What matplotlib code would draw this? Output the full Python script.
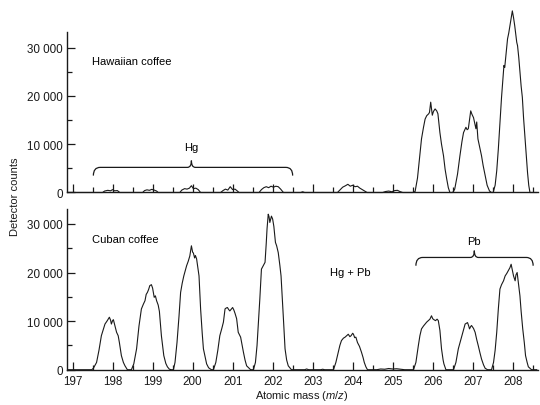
import matplotlib
matplotlib.use("Agg")
import matplotlib.pyplot as plt
from matplotlib.path import Path
from matplotlib.patches import PathPatch
from matplotlib.ticker import MultipleLocator, FuncFormatter

# (atomic mass, detector counts)
hawaiian_trace = [
    (196.9, 0), (197.75, 0), (197.8, 300), (197.88, 450), (197.95, 350), (198.0, 600),
    (198.05, 350), (198.12, 400), (198.18, 0),
    (198.75, 0), (198.8, 400), (198.86, 550), (198.92, 450), (198.98, 650), (199.04, 500),
    (199.1, 300), (199.14, 0),
    (199.68, 0), (199.73, 500), (199.8, 800), (199.86, 700), (199.92, 900), (199.97, 1400),
    (200.02, 800), (200.08, 900), (200.14, 600), (200.2, 0),
    (200.7, 0), (200.76, 400), (200.82, 700), (200.88, 500), (200.94, 1200), (201.0, 600),
    (201.06, 700), (201.12, 300), (201.16, 0),
    (201.66, 0), (201.72, 600), (201.78, 1000), (201.84, 1200), (201.9, 1000), (201.96, 1300),
    (202.02, 1100), (202.08, 1300), (202.14, 1200), (202.2, 700), (202.27, 0),
    (202.7, 0), (202.75, 150), (202.8, 0),
    (203.62, 0), (203.68, 500), (203.75, 1100), (203.82, 1400), (203.88, 1700), (203.94, 1300),
    (204.0, 1500), (204.06, 1200), (204.12, 1300), (204.18, 900), (204.24, 600), (204.3, 300),
    (204.36, 0),
    (204.75, 0), (204.82, 200), (204.9, 300), (204.98, 150), (205.05, 400), (205.12, 450),
    (205.18, 200), (205.25, 0),
    (205.5, 0), (205.56, 200), (205.62, 3000), (205.67, 7000), (205.72, 11100), (205.77, 13500),
    (205.81, 15200), (205.85, 15900), (205.9, 16300), (205.92, 16600), (205.95, 18700),
    (205.99, 16000), (206.02, 16800), (206.06, 17300), (206.1, 16900), (206.13, 16300),
    (206.18, 12400), (206.22, 10000), (206.27, 7600), (206.31, 4800), (206.35, 2800),
    (206.39, 1000), (206.43, 0),
    (206.5, 0), (206.55, 700), (206.62, 3800), (206.68, 7600), (206.73, 10500), (206.77, 12400),
    (206.83, 13500), (206.86, 13000), (206.89, 13200), (206.92, 15000), (206.95, 16900),
    (206.98, 16200), (207.02, 15500), (207.05, 14300), (207.08, 13200), (207.1, 14600),
    (207.13, 11100), (207.17, 9500), (207.22, 7600), (207.26, 5600), (207.31, 3500),
    (207.36, 1500), (207.42, 300), (207.47, 0),
    (207.51, 0), (207.56, 1500), (207.6, 4500), (207.64, 9000), (207.68, 14500), (207.72, 19700),
    (207.76, 24000), (207.78, 26300), (207.8, 25900), (207.83, 28500), (207.87, 31800),
    (207.9, 33000), (207.93, 34500), (207.96, 36000), (207.99, 37600), (208.02, 36200),
    (208.05, 34500), (208.08, 32500), (208.1, 31100), (208.12, 30400), (208.15, 28000),
    (208.18, 24900), (208.21, 22000), (208.24, 19700), (208.27, 15500), (208.31, 11100),
    (208.34, 7500), (208.37, 4100), (208.4, 1500), (208.43, 0), (208.6, 0),
]

cuban_trace = [
    (196.9, 0), (197.48, 0),
    (197.52, 300), (197.6, 1500), (197.66, 4000), (197.72, 7000), (197.77, 8300), (197.81, 9400),
    (197.86, 10000), (197.92, 10800), (197.95, 10200), (197.97, 9400), (198.0, 10100),
    (198.02, 10300), (198.06, 9000), (198.1, 7700), (198.14, 7000), (198.17, 5600),
    (198.22, 2900), (198.27, 1500), (198.31, 800), (198.37, 0),
    (198.47, 0), (198.53, 1200), (198.6, 4300), (198.66, 9000), (198.72, 12500), (198.77, 13500),
    (198.81, 14200), (198.84, 15500), (198.87, 15900), (198.9, 16500), (198.93, 17300),
    (198.97, 17500), (199.0, 16800), (199.04, 14900), (199.07, 15200), (199.1, 14200),
    (199.14, 13300), (199.17, 12000), (199.22, 7000), (199.28, 2900), (199.33, 1300),
    (199.37, 600), (199.42, 100), (199.47, 0),
    (199.52, 0), (199.56, 1500), (199.61, 5600), (199.66, 11000), (199.7, 15900), (199.74, 17800),
    (199.78, 19300), (199.82, 20500), (199.85, 21400), (199.89, 22300), (199.93, 23400),
    (199.97, 25500), (200.0, 24200), (200.02, 24000), (200.05, 23000), (200.07, 23500),
    (200.1, 22800), (200.13, 21000), (200.16, 19300), (200.2, 12500), (200.24, 7500),
    (200.27, 4300), (200.35, 1200), (200.4, 400), (200.47, 0),
    (200.52, 0), (200.58, 1500), (200.63, 4000), (200.68, 7000), (200.73, 8500), (200.77, 9800),
    (200.81, 12500), (200.84, 12700), (200.87, 12800), (200.9, 12400), (200.93, 12100),
    (200.97, 12500), (201.0, 12800), (201.03, 12300), (201.06, 11600), (201.1, 10500),
    (201.14, 7700), (201.2, 6700), (201.27, 3600), (201.31, 2000), (201.35, 800), (201.45, 0),
    (201.52, 0), (201.57, 1500), (201.61, 5000), (201.64, 9100), (201.68, 14600), (201.72, 20700),
    (201.77, 21500), (201.81, 22100), (201.84, 26000), (201.86, 29000), (201.89, 32000),
    (201.91, 31500), (201.93, 30300), (201.97, 31600), (202.0, 31000), (202.03, 29500),
    (202.07, 26200), (202.1, 25500), (202.14, 24100), (202.18, 21500), (202.21, 19300),
    (202.24, 15000), (202.27, 10400), (202.31, 4300), (202.35, 2000), (202.39, 800), (202.47, 0),
    (202.8, 0), (202.85, 150), (202.9, 0), (203.2, 0), (203.25, 100), (203.3, 0),
    (203.52, 0), (203.58, 1500), (203.64, 3600), (203.68, 5000), (203.72, 6000), (203.77, 6500),
    (203.81, 6700), (203.85, 7000), (203.89, 7300), (203.93, 6800), (203.96, 7000),
    (204.0, 7500), (204.02, 7300), (204.05, 6600), (204.08, 6700), (204.12, 5600),
    (204.17, 4800), (204.22, 3600), (204.26, 2500), (204.29, 1500), (204.33, 600), (204.37, 0),
    (204.6, 0), (204.7, 150), (204.8, 100), (204.9, 250), (205.0, 150), (205.1, 200),
    (205.2, 100), (205.3, 0),
    (205.52, 0), (205.58, 1500), (205.64, 4900), (205.68, 7000), (205.72, 8400), (205.77, 9000),
    (205.81, 9400), (205.85, 9800), (205.89, 10100), (205.93, 10400), (205.97, 11100),
    (206.0, 10500), (206.03, 10300), (206.07, 10100), (206.11, 10400), (206.14, 10100),
    (206.18, 8100), (206.22, 4300), (206.26, 2000), (206.28, 1200), (206.33, 0),
    (206.52, 0), (206.58, 1500), (206.64, 4300), (206.68, 5500), (206.72, 6700), (206.77, 8200),
    (206.81, 9400), (206.87, 9700), (206.9, 9000), (206.92, 8400), (206.95, 8900),
    (206.97, 9100), (207.02, 8500), (207.06, 7700), (207.1, 6200), (207.14, 4900),
    (207.18, 3500), (207.22, 2200), (207.27, 1000), (207.31, 300), (207.37, 0),
    (207.47, 0), (207.52, 1500), (207.56, 4000), (207.6, 7700), (207.64, 12500), (207.68, 16600),
    (207.72, 17500), (207.77, 18300), (207.81, 19300), (207.85, 19800), (207.89, 20400),
    (207.93, 21000), (207.96, 21700), (207.99, 20500), (208.02, 19300), (208.06, 18300),
    (208.08, 19500), (208.11, 20000), (208.14, 18000), (208.18, 15200), (208.21, 12000),
    (208.25, 8400), (208.29, 5500), (208.32, 2900), (208.36, 1500), (208.39, 600),
    (208.47, 0), (208.6, 0),
]

mass_ticks = list(range(197, 209))

plt.rcParams["font.family"] = ["Liberation Sans", "DejaVu Sans"]
plt.rcParams["font.size"] = 8
plt.rcParams["mathtext.fontset"] = "custom"
plt.rcParams["mathtext.rm"] = "Liberation Sans"
plt.rcParams["mathtext.it"] = "Liberation Sans:italic"

INK = "#1a1a1a"


def thousands(v, _pos):
    return f"{v:,.0f}".replace(",", " ")


def draw_brace(ax, x0, x1, xm, y, drop=1700, rise=1400, dx_end=0.17, dx_tip=0.1):
    """Curly brace opening downward, tip pointing up at xm"""
    verts = [
        (x0, y - drop), (x0, y), (x0 + dx_end, y),
        (xm - dx_tip, y), (xm, y), (xm, y + rise),
        (xm, y), (xm + dx_tip, y),
        (x1 - dx_end, y), (x1, y), (x1, y - drop),
    ]
    codes = [
        Path.MOVETO, Path.CURVE3, Path.CURVE3,
        Path.LINETO, Path.CURVE3, Path.CURVE3,
        Path.CURVE3, Path.CURVE3,
        Path.LINETO, Path.CURVE3, Path.CURVE3,
    ]
    ax.add_patch(PathPatch(Path(verts, codes), fill=False, lw=0.9, color=INK, clip_on=False))


def style_axis(ax, ymax, show_labels):
    ax.set_xlim(196.86, 208.63)
    ax.set_ylim(0, ymax)
    for side in ("top", "right"):
        ax.spines[side].set_visible(False)
    for side in ("left", "bottom"):
        ax.spines[side].set_linewidth(1.0)
        ax.spines[side].set_color(INK)
    ax.set_xticks(mass_ticks)
    ax.xaxis.set_minor_locator(MultipleLocator(0.5))
    ax.yaxis.set_major_locator(MultipleLocator(10000))
    ax.yaxis.set_minor_locator(MultipleLocator(5000))
    ax.yaxis.set_major_formatter(FuncFormatter(thousands))
    ax.tick_params(which="both", direction="in", color=INK, width=0.9,
                   labelcolor=INK, labelsize=8.4)
    ax.tick_params(which="major", length=6)
    ax.tick_params(which="minor", length=3.5)
    ax.tick_params(axis="y", pad=3)
    ax.tick_params(axis="x", pad=3.5, labelbottom=show_labels)
    ax.patch.set_alpha(0)


fig = plt.figure(figsize=(5.4, 4.06), dpi=100)
ax_top = fig.add_axes([0.124, 0.5234, 0.8722, 0.395])
ax_bot = fig.add_axes([0.124, 0.0869, 0.8722, 0.395])

m, c = zip(*hawaiian_trace)
ax_top.plot(m, c, color=INK, lw=0.8, clip_on=False)
style_axis(ax_top, 33200, False)
ax_top.text(197.48, 27200, "Hawaiian coffee", ha="left", va="center")
draw_brace(ax_top, 197.52, 202.5, 199.97, 5200)
ax_top.text(199.97, 9400, "Hg", ha="center", va="center")

m, c = zip(*cuban_trace)
ax_bot.plot(m, c, color=INK, lw=0.8)
style_axis(ax_bot, 33000, True)
ax_bot.text(197.48, 26900, "Cuban coffee", ha="left", va="center")
ax_bot.text(203.94, 20200, "Hg + Pb", ha="center", va="center")
draw_brace(ax_bot, 205.58, 208.51, 207.04, 23100)
ax_bot.text(207.04, 26400, "Pb", ha="center", va="center")

fig.text(0.028, 0.515, "Detector counts", rotation=90, ha="center", va="center", color=INK)
fig.text(0.559, 0.025, "Atomic mass ($m/z$)", ha="center", va="center", color=INK)

fig.savefig("out.png", dpi=100)
